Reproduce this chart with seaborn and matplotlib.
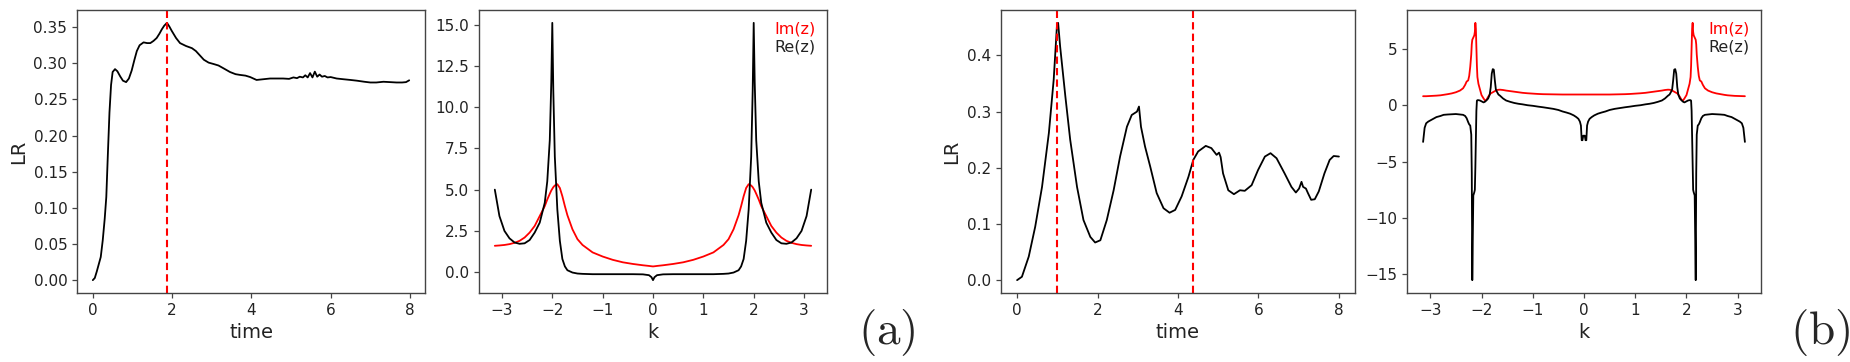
import matplotlib
matplotlib.use("Agg")
import matplotlib.pyplot as plt
import seaborn as sns

# ---------------- data ----------------
# (a) left: LR vs time
time_a = [0, 0.05, 0.1, 0.15, 0.2, 0.25, 0.3, 0.34, 0.38, 0.42, 0.46, 0.5, 0.56, 0.62,
          0.69, 0.76, 0.84, 0.91, 0.98, 1.05, 1.11, 1.18, 1.28, 1.37, 1.45, 1.53, 1.61,
          1.68, 1.74, 1.8, 1.87, 1.93, 1.99, 2.1, 2.2, 2.35, 2.5, 2.6, 2.7, 2.8, 2.92,
          3.05, 3.17, 3.3, 3.46, 3.6, 3.71, 3.85, 3.97, 4.05, 4.13, 4.3, 4.47, 4.65, 4.8,
          4.95, 5.06, 5.15, 5.22, 5.3, 5.36, 5.42, 5.48, 5.54, 5.6, 5.66, 5.72, 5.78,
          5.85, 5.92, 6.0, 6.15, 6.32, 6.5, 6.66, 6.85, 7.0, 7.15, 7.33, 7.5, 7.66, 7.8,
          7.9, 7.98]
lr_a = [0.0, 0.003, 0.012, 0.022, 0.032, 0.055, 0.085, 0.115, 0.175, 0.232, 0.27, 0.288,
        0.292, 0.289, 0.282, 0.276, 0.274, 0.279, 0.29, 0.305, 0.317, 0.325, 0.329, 0.328,
        0.328, 0.331, 0.335, 0.341, 0.347, 0.352, 0.356, 0.351, 0.345, 0.335, 0.328, 0.324,
        0.321, 0.317, 0.311, 0.305, 0.301, 0.299, 0.297, 0.293, 0.288, 0.285, 0.284, 0.283,
        0.281, 0.279, 0.277, 0.278, 0.279, 0.279, 0.279, 0.2785, 0.2805, 0.2795, 0.2815,
        0.2805, 0.2835, 0.2805, 0.2865, 0.2805, 0.2885, 0.2815, 0.2845, 0.2815, 0.2825,
        0.2805, 0.281, 0.279, 0.278, 0.277, 0.276, 0.2745, 0.2735, 0.2735, 0.2745, 0.274,
        0.2735, 0.2735, 0.274, 0.2765]
vlines_a = [1.87]

# (a) right: z(k)
k_a = [-3.1416, -3.05, -2.95, -2.85, -2.75, -2.65, -2.55, -2.45, -2.35, -2.25, -2.15,
       -2.1, -2.05, -2.02, -2.0, -1.98, -1.95, -1.9, -1.85, -1.8, -1.75, -1.7, -1.6, -1.5,
       -1.4, -1.2, -1.0, -0.8, -0.6, -0.4, -0.2, -0.08, -0.03, 0.0,
       0.03, 0.08, 0.2, 0.4, 0.6, 0.8, 1.0, 1.2, 1.4, 1.5, 1.6, 1.7, 1.75, 1.8, 1.85, 1.9,
       1.95, 1.98, 2.0, 2.02, 2.05, 2.1, 2.15, 2.25, 2.35, 2.45, 2.55, 2.65, 2.75, 2.85,
       2.95, 3.05, 3.1416]
re_a = [5.0, 3.4, 2.5, 2.05, 1.8, 1.72, 1.75, 1.95, 2.4, 3.0, 4.2, 5.5, 8.0, 11.5, 15.1,
        11.0, 7.0, 3.8, 1.9, 0.8, 0.35, 0.12, -0.02, -0.08, -0.1, -0.12, -0.12, -0.12,
        -0.12, -0.12, -0.13, -0.18, -0.3, -0.48,
        -0.3, -0.18, -0.13, -0.12, -0.12, -0.12, -0.12, -0.12, -0.1, -0.08, -0.02, 0.12,
        0.35, 0.8, 1.9, 3.8, 7.0, 11.0, 15.1, 11.5, 8.0, 5.5, 4.2, 3.0, 2.4, 1.95, 1.75,
        1.72, 1.8, 2.05, 2.5, 3.4, 5.0]
im_a = [1.6, 1.62, 1.65, 1.7, 1.78, 1.9, 2.1, 2.4, 2.8, 3.4, 4.0, 4.4, 4.75, 4.95, 5.05,
        5.15, 5.25, 5.33, 5.1, 4.6, 4.0, 3.45, 2.6, 2.0, 1.65, 1.2, 0.95, 0.75, 0.6, 0.5,
        0.42, 0.38, 0.36, 0.35,
        0.36, 0.38, 0.42, 0.5, 0.6, 0.75, 0.95, 1.2, 1.65, 2.0, 2.6, 3.45, 4.0, 4.6, 5.1,
        5.33, 5.25, 5.15, 5.05, 4.95, 4.75, 4.4, 4.0, 3.4, 2.8, 2.4, 2.1, 1.9, 1.78, 1.7,
        1.65, 1.62, 1.6]

# (b) left: LR vs time
time_b = [0, 0.12, 0.29, 0.45, 0.62, 0.79, 0.91, 0.99, 1.02, 1.07, 1.2, 1.32, 1.49, 1.65,
          1.82, 1.94, 2.07, 2.23, 2.4, 2.56, 2.73, 2.85, 2.98, 3.03, 3.08, 3.18, 3.31,
          3.47, 3.64, 3.79, 3.93, 4.09, 4.26, 4.38, 4.5, 4.69, 4.83, 4.96, 5.02, 5.06,
          5.12, 5.25, 5.39, 5.54, 5.66, 5.83, 5.99, 6.16, 6.3, 6.45, 6.65, 6.82, 6.93,
          7.01, 7.07, 7.11, 7.18, 7.23, 7.31, 7.4, 7.5, 7.64, 7.77, 7.87, 8.0]
lr_b = [0.0, 0.006, 0.042, 0.095, 0.166, 0.262, 0.357, 0.452, 0.458, 0.416, 0.327, 0.25,
        0.166, 0.107, 0.077, 0.067, 0.071, 0.107, 0.16, 0.22, 0.273, 0.294, 0.3, 0.309,
        0.273, 0.238, 0.202, 0.155, 0.128, 0.12, 0.125, 0.149, 0.184, 0.214, 0.229, 0.239,
        0.235, 0.223, 0.227, 0.219, 0.19, 0.16, 0.153, 0.16, 0.159, 0.169, 0.196, 0.22,
        0.226, 0.217, 0.19, 0.166, 0.156, 0.163, 0.175, 0.166, 0.163, 0.155, 0.143, 0.144,
        0.158, 0.19, 0.214, 0.221, 0.22]
vlines_b = [1.0, 4.37]

# (b) right: z(k)
k_b = [-3.14, -3.11, -3.08, -3.04, -3.0, -2.94, -2.88, -2.8, -2.74, -2.66, -2.58, -2.5,
       -2.42, -2.36, -2.32, -2.29, -2.26, -2.24, -2.22, -2.2, -2.19, -2.18, -2.17, -2.16,
       -2.14, -2.13, -2.12, -2.11, -2.1, -2.09, -2.08, -2.06, -2.03, -2.0, -1.96, -1.93,
       -1.9, -1.87, -1.84, -1.82, -1.8, -1.78, -1.76, -1.74, -1.72, -1.7, -1.67, -1.64,
       -1.58, -1.52, -1.44, -1.36, -1.28, -1.2, -1.1, -1.0, -0.9, -0.8, -0.7, -0.6, -0.5,
       -0.42, -0.34, -0.27, -0.2, -0.15, -0.11, -0.08, -0.06, -0.045, -0.03, -0.015, 0.0,
       0.015, 0.03, 0.045, 0.06, 0.08, 0.11, 0.15, 0.2, 0.27, 0.34, 0.42, 0.5, 0.6, 0.7,
       0.8, 0.9, 1.0, 1.1, 1.2, 1.28, 1.36, 1.44, 1.52, 1.58, 1.64, 1.67, 1.7, 1.72, 1.74,
       1.76, 1.78, 1.8, 1.82, 1.84, 1.87, 1.9, 1.93, 1.96, 2.0, 2.03, 2.06, 2.08, 2.09,
       2.1, 2.11, 2.12, 2.13, 2.14, 2.16, 2.17, 2.18, 2.19, 2.2, 2.22, 2.24, 2.26, 2.29,
       2.32, 2.36, 2.42, 2.5, 2.58, 2.66, 2.74, 2.8, 2.88, 2.94, 3.0, 3.04, 3.08, 3.11,
       3.14]
re_b = [-3.25, -2.0, -1.6, -1.45, -1.35, -1.2, -1.05, -0.95, -0.85, -0.82, -0.8, -0.78,
        -0.82, -0.85, -0.95, -1.15, -1.5, -1.7, -1.8, -2.6, -6.0, -15.5, -12.0, -8.0, -7.7,
        -7.5, -5.5, -3.0, -0.5, 0.4, 0.45, 0.45, 0.42, 0.35, 0.25, 0.32, 0.45, 0.6, 0.95,
        1.6, 2.8, 3.2, 3.15, 2.2, 1.4, 1.2, 0.95, 0.85, 0.6, 0.42, 0.3, 0.2, 0.13, 0.08,
        0.0, -0.05, -0.12, -0.18, -0.25, -0.32, -0.42, -0.55, -0.65, -0.75, -0.9, -1.05,
        -1.2, -1.45, -1.8, -3.1, -3.1, -2.7, -2.7,
        -2.7, -3.1, -3.1, -1.8, -1.45, -1.2, -1.05, -0.9, -0.75, -0.65, -0.55, -0.42, -0.32,
        -0.25, -0.18, -0.12, -0.05, 0.0, 0.08, 0.13, 0.2, 0.3, 0.42, 0.6, 0.85, 0.95, 1.2,
        1.4, 2.2, 3.15, 3.2, 2.8, 1.6, 0.95, 0.6, 0.45, 0.32, 0.25, 0.35, 0.42, 0.45, 0.45,
        0.4, -0.5, -3.0, -5.5, -7.5, -7.7, -8.0, -12.0, -15.5, -6.0, -2.6, -1.8, -1.7,
        -1.5, -1.15, -0.95, -0.85, -0.82, -0.78, -0.8, -0.82, -0.85, -0.95, -1.05, -1.2,
        -1.35, -1.45, -1.6, -2.0, -3.25]
im_b = [0.8, 0.8, 0.8, 0.81, 0.82, 0.83, 0.85, 0.88, 0.92, 0.98, 1.05, 1.15, 1.3, 1.5,
        1.8, 2.1, 2.2, 2.6, 3.4, 4.5, 5.4, 5.8, 5.9, 6.0, 6.2, 6.5, 7.3, 6.8, 5.0, 3.5, 2.5,
        1.9, 1.4, 0.9, 0.6, 0.4, 0.5, 0.75, 0.95, 1.05, 1.1, 1.15, 1.2, 1.25, 1.3, 1.35,
        1.37, 1.38, 1.35, 1.3, 1.25, 1.2, 1.15, 1.1, 1.06, 1.03, 1.0, 0.98, 0.97, 0.96,
        0.95, 0.95, 0.95, 0.95, 0.95, 0.95, 0.95, 0.95, 0.95, 0.95, 0.95, 0.95, 0.95,
        0.95, 0.95, 0.95, 0.95, 0.95, 0.95, 0.95, 0.95, 0.95, 0.95, 0.95, 0.95, 0.96, 0.97,
        0.98, 1.0, 1.03, 1.06, 1.1, 1.15, 1.2, 1.25, 1.3, 1.35, 1.38, 1.37, 1.35, 1.3, 1.25,
        1.2, 1.15, 1.1, 1.05, 0.95, 0.75, 0.5, 0.4, 0.6, 0.9, 1.4, 1.9, 2.5, 3.5, 5.0, 6.8,
        7.3, 6.5, 6.2, 6.0, 5.9, 5.8, 5.4, 4.5, 3.4, 2.6, 2.2, 2.1, 1.8, 1.5, 1.3, 1.15,
        1.05, 0.98, 0.92, 0.88, 0.85, 0.83, 0.82, 0.81, 0.8, 0.8, 0.8]

panel_labels = ["(a)", "(b)"]

# ---------------- style ----------------
sns.set_style("white")
plt.rcParams.update({
    "font.family": ["DejaVu Sans"],
    "mathtext.fontset": "cm",
    "axes.edgecolor": "#444444",
    "axes.linewidth": 1.0,
    "xtick.bottom": True,
    "ytick.left": True,
    "xtick.major.size": 3.5,
    "ytick.major.size": 3.5,
    "xtick.major.width": 0.9,
    "ytick.major.width": 0.9,
    "xtick.color": "#444444",
    "ytick.color": "#444444",
    "xtick.labelcolor": "#222222",
    "ytick.labelcolor": "#222222",
    "xtick.labelsize": 11,
    "ytick.labelsize": 11,
    "axes.labelsize": 14,
})

fig = plt.figure(figsize=(18.5, 3.62), dpi=100)
H = 362.0
W = 1850.0
bottom = 1 - 293 / H
height = (293 - 10) / H
ax1 = fig.add_axes([77 / W, bottom, 348 / W, height])
ax2 = fig.add_axes([479 / W, bottom, 348 / W, height])
ax3 = fig.add_axes([1001 / W, bottom, 354 / W, height])
ax4 = fig.add_axes([1407 / W, bottom, 354 / W, height])

LW = 1.3

def lr_panel(ax, t, v, vls):
    sns.lineplot(x=t, y=v, ax=ax, color="black", linewidth=LW, sort=False)
    for xv in vls:
        ax.axvline(xv, color="red", linestyle=(0, (3.5, 2)), linewidth=1.5)
    ax.set_xlabel("time", color="#222222")
    ax.set_ylabel("LR", color="#222222")
    ax.set_xticks([0, 2, 4, 6, 8])

def z_panel(ax, k, re, im):
    sns.lineplot(x=k, y=im, ax=ax, color="red", linewidth=LW, sort=False, label="Im(z)")
    sns.lineplot(x=k, y=re, ax=ax, color="black", linewidth=LW, sort=False, label="Re(z)")
    ax.set_xlabel("k", color="#222222")
    ax.set_xticks([-3, -2, -1, 0, 1, 2, 3])
    leg = ax.legend(loc="upper right", frameon=False, handlelength=0, handletextpad=0,
                    fontsize=11.5, borderaxespad=0.3, labelspacing=0.2)
    for txt, col in zip(leg.get_texts(), ["red", "#222222"]):
        txt.set_color(col)
    for h in leg.legend_handles:
        h.set_visible(False)

lr_panel(ax1, time_a, lr_a, vlines_a)
z_panel(ax2, k_a, re_a, im_a)
ax2.set_yticks([0, 2.5, 5, 7.5, 10, 12.5, 15])
lr_panel(ax3, time_b, lr_b, vlines_b)
z_panel(ax4, k_b, re_b, im_b)
ax4.set_yticks([-15, -10, -5, 0, 5])

fig.text(887 / W, 1 - 333 / H, r"$\mathrm{" + panel_labels[0] + "}$", fontsize=34,
         ha="center", va="center")
fig.text(1820 / W, 1 - 333 / H, r"$\mathrm{" + panel_labels[1] + "}$", fontsize=34,
         ha="center", va="center")

fig.savefig("out.png", dpi=100)
